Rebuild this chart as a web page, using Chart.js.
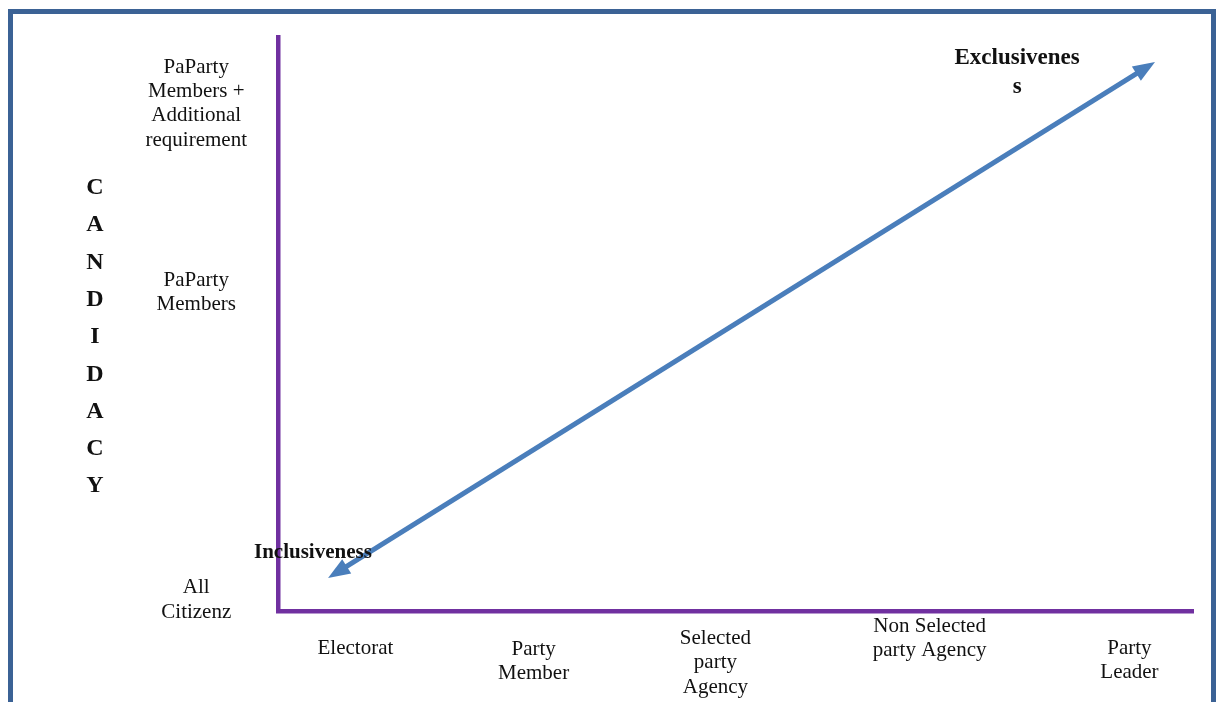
<!DOCTYPE html>
<html lang="en">
<head>
<meta charset="utf-8">
<title>Candidacy and selectorate</title>
<script src="https://cdn.jsdelivr.net/npm/chart.js@4.4.1/dist/chart.umd.min.js"></script>
<style>
    html, body {
        margin: 0;
        padding: 0;
        background: #ffffff;
        overflow: hidden;
    }
    #frame {
        position: absolute;
        left: 8px;
        top: 9px;
        width: 1208px;
        height: 820px;
        box-sizing: border-box;
        border: 5px solid #3b6295;
        pointer-events: none;
    }
    #wrap {
        position: absolute;
        left: 0;
        top: 0;
        width: 1216px;
        height: 702px;
    }
</style>
</head>
<body>
<div id="wrap"><canvas id="selectionChart"></canvas></div>
<div id="frame"></div>
<script>
// selectorate (x) and candidacy (y) categories, placed on linear scales
const xLabels = [
    ["Electorat"],
    ["Party", "Member"],
    ["Selected", "party", "Agency"],
    ["Non Selected", "party Agency"],
    ["Party", "Leader"]
];
const xTickValues = [0.43, 1.42, 2.43, 3.62, 4.73];

const yLabels = [
    ["All", "Citizenz"],
    ["PaParty", "Members"],
    ["PaParty", "Members +", "Additional", "requirement"]
];
const yTickValues = [0.19, 5.55, 8.84];

// the inclusive -> exclusive arrow (tail, head)
const arrowX = [0.278, 4.872];
const arrowY = [0.575, 9.565];

const axisTitle = "CANDIDACY";
const noteInclusive = ["Inclusiveness"];
const noteInclusiveAt = [0.194, 1.01];
const noteExclusive = ["Exclusivenes", "s"];
const noteExclusiveAt = [4.106, 9.634];

// layout / style only
const colors = {
    axis: "#7030a0",
    arrow: "#4a7ebb",
    text: "#111111"
};
const serif = "'Liberation Serif', 'Times New Roman', serif";
const xLabelShift = [0, 1, -10, -22, 0];

function drawLines(ctx, lines, x, y, lineHeight) {
    lines.forEach((line, i) => ctx.fillText(line, x, y + i * lineHeight));
}

const annotationPlugin = {
    id: "annotations",
    afterDatasetsDraw(chart) {
        const ctx = chart.ctx;
        const xs = chart.scales.x;
        const ys = chart.scales.y;

        // arrow shaft + two heads
        const x0 = xs.getPixelForValue(arrowX[0]);
        const y0 = ys.getPixelForValue(arrowY[0]);
        const x1 = xs.getPixelForValue(arrowX[1]);
        const y1 = ys.getPixelForValue(arrowY[1]);
        const len = Math.hypot(x1 - x0, y1 - y0);
        const ux = (x1 - x0) / len;
        const uy = (y1 - y0) / len;
        const headLen = 22;
        const headHalf = 8.5;

        ctx.save();
        ctx.strokeStyle = colors.arrow;
        ctx.fillStyle = colors.arrow;
        ctx.lineWidth = 5;
        ctx.beginPath();
        ctx.moveTo(x0 + ux * (headLen - 2), y0 + uy * (headLen - 2));
        ctx.lineTo(x1 - ux * (headLen - 2), y1 - uy * (headLen - 2));
        ctx.stroke();

        [[x1, y1, 1], [x0, y0, -1]].forEach(([tx, ty, dir]) => {
            const bx = tx - dir * ux * headLen;
            const by = ty - dir * uy * headLen;
            ctx.beginPath();
            ctx.moveTo(tx, ty);
            ctx.lineTo(bx - uy * headHalf, by + ux * headHalf);
            ctx.lineTo(bx + uy * headHalf, by - ux * headHalf);
            ctx.closePath();
            ctx.fill();
        });

        // notes
        ctx.fillStyle = colors.text;
        ctx.textAlign = "center";
        ctx.textBaseline = "middle";
        ctx.font = `bold 21px ${serif}`;
        drawLines(ctx, noteInclusive,
            xs.getPixelForValue(noteInclusiveAt[0]), ys.getPixelForValue(noteInclusiveAt[1]), 24);
        ctx.font = `bold 23px ${serif}`;
        drawLines(ctx, noteExclusive,
            xs.getPixelForValue(noteExclusiveAt[0]), ys.getPixelForValue(noteExclusiveAt[1]), 29);

        // x category labels under the axis
        ctx.font = `21px ${serif}`;
        xLabels.forEach((lines, i) => {
            const px = xs.getPixelForValue(xTickValues[i]);
            drawLines(ctx, lines, px, xs.top + 37 + xLabelShift[i], 24.5);
        });

        // vertical stacked axis title
        ctx.font = `bold 24px ${serif}`;
        const letters = axisTitle.split("");
        const pitch = 37.3;
        const midY = (chart.chartArea.top + chart.chartArea.bottom) / 2 + 13;
        const startY = midY - (letters.length - 1) * pitch / 2;
        letters.forEach((ch, i) => ctx.fillText(ch, 95, startY + i * pitch));
        ctx.restore();
    }
};

function buildChart() {
    const context = document.getElementById("selectionChart").getContext("2d");
    return new Chart(context, {
        type: "scatter",
        data: {
            datasets: [{
                label: "Inclusiveness to exclusiveness",
                data: arrowX.map((x, i) => ({ x, y: arrowY[i] })),
                showLine: false,
                pointRadius: 0,
                pointHoverRadius: 0
            }]
        },
        options: {
            responsive: true,
            maintainAspectRatio: false,
            animation: false,
            events: [],
            layout: {
                padding: { top: 37, right: 23, left: 0, bottom: 0 }
            },
            plugins: {
                legend: { display: false },
                tooltip: { enabled: false }
            },
            scales: {
                x: {
                    type: "linear",
                    min: 0,
                    max: 5.083,
                    grid: { display: false, drawTicks: false },
                    border: { display: true, color: colors.axis, width: 4.5 },
                    ticks: { display: false },
                    afterFit(scale) {
                        scale.height = 91;
                        scale.paddingLeft = 0;
                        scale.paddingRight = 0;
                    }
                },
                y: {
                    type: "linear",
                    min: 0,
                    max: 10,
                    grid: { display: false, drawTicks: false, tickLength: 0 },
                    border: { display: true, color: colors.axis, width: 4.5 },
                    afterBuildTicks(scale) {
                        scale.ticks = yTickValues.map((value) => ({ value }));
                    },
                    ticks: {
                        autoSkip: false,
                        crossAlign: "center",
                        padding: 31,
                        color: colors.text,
                        font: { family: serif, size: 21, lineHeight: 1.16 },
                        callback(value, index) {
                            return yLabels[index];
                        }
                    },
                    afterFit(scale) {
                        scale.width = 278;
                        scale.paddingTop = 0;
                        scale.paddingBottom = 0;
                    }
                }
            }
        },
        plugins: [annotationPlugin]
    });
}

document.addEventListener("DOMContentLoaded", buildChart);
</script>
</body>
</html>
